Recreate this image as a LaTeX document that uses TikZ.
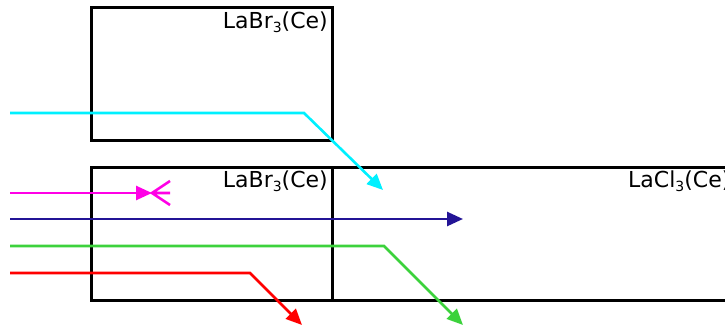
\documentclass[tikz,border=0pt]{standalone}
\usepackage{fontspec}
\setmainfont{DejaVu Sans}
\usetikzlibrary{arrows.meta}
\definecolor{cy}{RGB}{0,240,255}
\definecolor{mg}{RGB}{255,0,230}
\definecolor{nv}{RGB}{35,20,150}
\definecolor{gr}{RGB}{60,210,60}
\definecolor{rd}{RGB}{255,0,0}
\tikzset{
  box/.style={draw=black,line width=2.6pt},
  ray/.style={line width=2.6pt,-{Triangle[length=16pt,width=14pt]}},
  lbl/.style={anchor=north east,inner sep=0pt,font=\fontsize{22}{24}\selectfont}
}
\newcommand{\sbs}[1]{\raisebox{-0.3ex}{\fontsize{14}{14}\selectfont #1}}
\begin{document}
\begin{tikzpicture}[x=1pt,y=-1pt]
\useasboundingbox (0,0) rectangle (725,329);
\clip (0,0) rectangle (725,329);
\node[box,minimum width=241pt,minimum height=133pt,anchor=north west,inner sep=0pt] (b1) at (90,6) {};
\node[box,minimum width=241pt,minimum height=133pt,anchor=north west,inner sep=0pt] (b2) at (90,166) {};
\node[box,minimum width=420pt,minimum height=133pt,anchor=north west,inner sep=0pt] (b3) at (331,166) {};
\node[lbl] (t1) at (328,12) {LaBr\sbs{3}(Ce)};
\node[lbl] (t2) at (328,171) {LaBr\sbs{3}(Ce)};
\node[lbl,anchor=north west] (t3) at (628,171) {LaCl\sbs{3}(Ce)};
% cyan
\coordinate (c0) at (10,113);
\coordinate (c1) at (304,113);
\coordinate (c2) at (383,190);
\draw[ray,cy] (c0) -- (c1) -- (c2);
% magenta
\coordinate (m0) at (10,193);
\coordinate (m1) at (152,193);
\coordinate (m2) at (170,193);
\coordinate (m3) at (170,181);
\coordinate (m4) at (170,205);
\draw[ray,mg] (m0) -- (m1);
\draw[mg,line width=2.6pt] (m1) -- (m2) (m3) -- (m1) -- (m4);
% navy
\coordinate (n0) at (10,219);
\coordinate (n1) at (463,219);
\draw[ray,nv] (n0) -- (n1);
% green
\coordinate (g0) at (10,246);
\coordinate (g1) at (384,246);
\coordinate (g2) at (463,325);
\draw[ray,gr] (g0) -- (g1) -- (g2);
% red
\coordinate (r0) at (10,273);
\coordinate (r1) at (250,273);
\coordinate (r2) at (302,325);
\draw[ray,rd] (r0) -- (r1) -- (r2);
\end{tikzpicture}
\end{document}
